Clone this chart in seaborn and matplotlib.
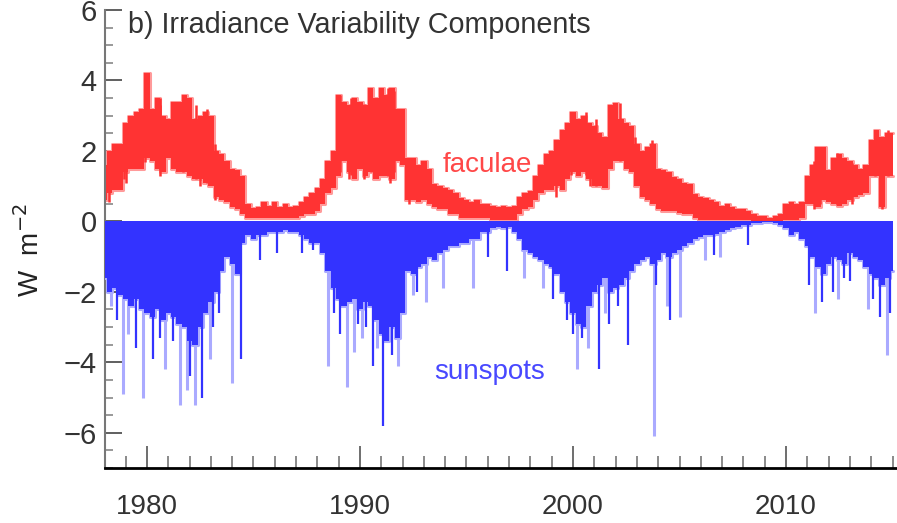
import numpy as np
import pandas as pd
import matplotlib
matplotlib.use("Agg")
import matplotlib.pyplot as plt
import seaborn as sns
from matplotlib.ticker import MultipleLocator, FixedLocator

# ---------------- data ----------------
# sampling grid: quarter years 1978.0 ... 2015.0
start_year = 1978
end_year = 2015
years = [y + q for y in range(start_year, end_year) for q in (0.0, 0.25, 0.5, 0.75)] + [float(end_year)]

# faculae: upper and lower edge of the red band (W m-2), 4 values per year
fac_hi = [
    1.6, 2.0, 2.2, 2.2,     # 1978
    2.8, 3.0, 3.1, 3.2,     # 1979
    4.2, 3.2, 3.5, 3.0,     # 1980
    2.9, 3.4, 3.4, 3.6,     # 1981
    3.5, 2.9, 3.0, 3.1,     # 1982
    3.0, 2.0, 1.9, 1.7,     # 1983
    1.5, 1.45, 1.3, 0.5,    # 1984
    0.37, 0.4, 0.55, 0.45,  # 1985
    0.55, 0.4, 0.5, 0.4,    # 1986
    0.45, 0.55, 0.7, 0.8,   # 1987
    0.95, 1.2, 1.7, 2.0,    # 1988
    3.6, 3.4, 3.3, 3.5,     # 1989
    3.4, 3.3, 3.8, 3.5,     # 1990
    3.8, 3.6, 3.8, 3.2,     # 1991
    3.2, 1.8, 1.8, 1.6,     # 1992
    1.7, 1.5, 1.05, 1.0,    # 1993
    0.95, 0.9, 0.8, 0.66,   # 1994
    0.6, 0.55, 0.6, 0.5,    # 1995
    0.48, 0.45, 0.4, 0.45,  # 1996
    0.4, 0.45, 0.7, 0.8,    # 1997
    0.85, 1.3, 1.6, 1.9,    # 1998
    2.0, 2.3, 2.6, 2.8,     # 1999
    3.1, 2.9, 3.0, 2.8,     # 2000
    2.7, 2.5, 2.4, 3.3,     # 2001
    3.35, 2.9, 2.8, 2.7,    # 2002
    2.2, 2.0, 2.1, 2.2,     # 2003
    1.5, 1.45, 1.4, 1.25,   # 2004
    1.2, 1.1, 1.05, 0.77,   # 2005
    0.7, 0.65, 0.6, 0.55,   # 2006
    0.45, 0.5, 0.4, 0.35,   # 2007
    0.35, 0.3, 0.2, 0.15,   # 2008
    0.15, 0.1, 0.15, 0.2,   # 2009
    0.5, 0.55, 0.5, 0.55,   # 2010
    1.3, 1.6, 2.1, 2.1,     # 2011
    1.45, 1.8, 1.9, 1.8,    # 2012
    1.7, 1.6, 1.5, 1.6,     # 2013
    2.3, 2.6, 2.4, 2.5,     # 2014
    2.5,                    # 2015
]
fac_lo = [
    0.6, 0.8, 0.9, 0.9,
    1.4, 1.5, 1.5, 1.5,
    1.8, 1.7, 1.5, 1.4,
    1.8, 1.5, 1.4, 1.4,
    1.3, 1.2, 1.2, 1.1,
    1.0, 0.7, 0.6, 0.55,
    0.4, 0.35, 0.2, 0.1,
    0.1, 0.1, 0.1, 0.1,
    0.1, 0.1, 0.1, 0.1,
    0.1, 0.15, 0.2, 0.2,
    0.3, 0.5, 0.8, 0.95,
    1.3, 1.7, 1.4, 1.2,
    1.5, 1.3, 1.4, 1.2,
    1.3, 1.3, 1.2, 1.7,
    1.6, 0.6, 0.6, 0.55,
    0.6, 0.5, 0.4, 0.35,
    0.35, 0.2, 0.2, 0.1,
    0.1, 0.1, 0.1, 0.1,
    0.1, 0.05, 0.05, 0.05,
    0.05, 0.05, 0.2, 0.35,
    0.4, 0.6, 0.8, 0.9,
    0.9, 1.0, 0.9, 1.2,
    1.4, 1.3, 1.4, 1.2,
    1.0, 1.0, 0.95, 1.5,
    1.7, 1.7, 1.5, 1.4,
    1.0, 0.7, 0.6, 0.5,
    0.35, 0.3, 0.3, 0.3,
    0.25, 0.2, 0.2, 0.1,
    0.05, 0.05, 0.05, 0.05,
    0.05, 0.05, 0.05, 0.05,
    0.05, 0.05, 0.0, 0.0,
    0.0, 0.0, 0.0, 0.0,
    0.05, 0.05, 0.05, 0.1,
    0.5, 0.5, 0.4, 0.6,
    0.55, 0.5, 0.45, 0.5,
    0.6, 0.7, 0.75, 0.8,
    1.3, 1.3, 0.4, 1.3,
    1.3,
]

# narrow faculae peaks above the band and dips below it
fac_peak_years = [1978.9, 1979.9, 1980.6, 1981.7, 1982.3, 1982.8, 1989.06, 1989.6,
                  1990.5, 1991.3, 1991.6, 1999.9, 2000.6, 2001.1, 2002.2, 2003.7,
                  2011.6, 2012.4, 2014.2, 2014.8]
fac_peak_top = [2.5, 4.2, 3.5, 3.6, 3.3, 3.2, 3.6, 3.5,
                3.8, 3.8, 3.7, 3.0, 3.1, 2.9, 3.35, 2.3,
                2.1, 1.95, 2.6, 2.6]
fac_dip_years = [1978.2, 1979.0, 1980.6, 1982.5, 1983.2, 1989.5, 1990.2, 1991.4,
                 1992.3, 1999.2, 2000.8, 2002.9, 2011.3, 2013.1, 2014.5]
fac_dip_bottom = [0.55, 1.1, 1.3, 1.0, 0.6, 1.2, 1.2, 1.1,
                  0.5, 0.7, 1.0, 1.2, 0.35, 0.5, 0.35]

# sunspots: depth of the dense dark-blue body (W m-2)
spot_body = [
    -1.6, -2.0, -1.9, -2.1,
    -2.2, -2.4, -2.2, -2.5,
    -2.6, -2.7, -2.5, -2.8,
    -2.6, -2.7, -2.9, -3.0,
    -3.4, -3.5, -3.0, -2.6,
    -2.3, -2.0, -1.4, -1.0,
    -1.2, -1.5, -0.6, -0.4,
    -0.5, -0.4, -0.4, -0.3,
    -0.3, -0.3, -0.25, -0.3,
    -0.3, -0.4, -0.5, -0.6,
    -0.6, -0.9, -1.4, -1.9,
    -2.2, -2.4, -2.3, -2.2,
    -2.5, -2.3, -2.4, -2.8,
    -3.2, -3.4, -3.0, -3.3,
    -2.6, -1.4, -1.5, -1.3,
    -1.2, -1.0, -1.1, -0.9,
    -0.8, -0.7, -0.7, -0.6,
    -0.6, -0.5, -0.5, -0.3,
    -0.3, -0.2, -0.15, -0.2,
    -0.15, -0.3, -0.5, -0.8,
    -0.9, -1.0, -1.1, -1.2,
    -1.3, -1.5, -2.0, -2.3,
    -2.6, -2.9, -3.0, -2.4,
    -2.0, -1.8, -1.6, -2.0,
    -1.9, -1.8, -1.6, -1.4,
    -1.2, -1.1, -1.0, -1.2,
    -1.1, -0.9, -1.0, -0.9,
    -0.8, -0.7, -0.6, -0.5,
    -0.45, -0.4, -0.4, -0.35,
    -0.3, -0.25, -0.2, -0.15,
    -0.1, -0.1, -0.05, -0.05,
    -0.03, -0.03, -0.05, -0.1,
    -0.2, -0.4, -0.3, -0.5,
    -0.7, -1.0, -1.3, -1.5,
    -1.2, -1.0, -1.1, -1.2,
    -0.9, -1.0, -1.1, -1.3,
    -1.5, -1.6, -1.8, -1.6,
    -1.4,
]

# isolated deep sunspot dips (pale blue)
light_years = [1978.3, 1978.87, 1979.1, 1979.8, 1980.85, 1981.55, 1981.9, 1982.25,
               1982.96, 1984.0, 1988.5, 1989.4, 1989.7, 1990.1, 1990.8, 1991.8,
               1992.5, 1993.1, 1993.9, 1995.3, 1997.7, 1998.6, 2000.2, 2000.7,
               2001.5, 2003.8, 2004.4, 2005.0, 2006.2, 2006.9, 2011.36, 2012.45,
               2013.85, 2014.75]
light_depth = [-2.4, -4.9, -3.2, -5.0, -4.2, -5.2, -4.8, -5.2,
               -3.9, -4.6, -4.1, -4.7, -3.7, -3.3, -3.6, -4.1,
               -2.1, -2.3, -1.9, -1.9, -1.6, -1.9, -4.2, -3.6,
               -2.6, -6.1, -2.4, -2.7, -1.1, -1.0, -2.6, -2.2,
               -2.5, -3.8]

# isolated sunspot dips (dark blue)
dark_years = [1978.6, 1979.5, 1980.3, 1980.6, 1981.2, 1982.0, 1982.6, 1983.1, 1983.4,
              1984.4, 1985.3, 1986.1, 1987.3, 1987.8, 1988.8, 1989.06, 1989.9,
              1990.3, 1990.6, 1991.1, 1991.5, 1992.7, 1996.0, 1996.9, 1999.06,
              1999.7, 2000.0, 2000.4, 2001.2, 2001.7, 2002.1, 2002.6, 2003.9,
              2004.55, 2006.6, 2008.2, 2011.1, 2011.7, 2012.2, 2012.7, 2013.0,
              2014.1, 2014.4, 2014.9]
dark_depth = [-2.8, -3.6, -3.9, -3.3, -3.4, -4.4, -5.0, -3.0, -2.6,
              -3.9, -1.1, -0.9, -0.9, -0.8, -2.6, -3.2, -2.9,
              -3.0, -4.1, -5.8, -3.8, -2.0, -1.0, -1.4, -2.2,
              -2.8, -3.2, -3.3, -4.2, -2.9, -2.4, -3.5, -1.8,
              -2.8, -0.95, -0.66, -1.8, -2.3, -2.0, -1.6, -1.7,
              -2.2, -2.7, -2.6]

x_ticks = [1980, 1990, 2000, 2010]
y_ticks = [-6, -4, -2, 0, 2, 4, 6]

title = "b) Irradiance Variability Components"
ylabel = r"W  m$^{-2}$"

RED = "#ff3333"
PINK = "#ff9a9a"
BLUE = "#3333ff"
PALE = "#aaaaff"

# ---------------- figure ----------------
sns.set_style("ticks")
plt.rcParams["font.family"] = ["Liberation Sans", "DejaVu Sans"]

fig = plt.figure(figsize=(8.97, 5.23), dpi=100)
ax = fig.add_axes([105 / 897, 55 / 523, 792 / 897, 458 / 523])

df = pd.DataFrame({"year": years, "hi": fac_hi, "lo": fac_lo, "spot": spot_body})

# faculae band
sns.lineplot(data=df, x="year", y="hi", ax=ax, color=PINK, lw=2.2,
             drawstyle="steps-mid", zorder=1)
sns.lineplot(data=df, x="year", y="lo", ax=ax, color=PINK, lw=2.2,
             drawstyle="steps-mid", zorder=1)
ax.fill_between(df["year"], df["lo"], df["hi"], color=RED, lw=0, step="mid", zorder=2)
# peaks rise from the band's lower edge, dips hang from its upper edge
peak_base = np.interp(fac_peak_years, years, fac_lo)
dip_base = np.interp(fac_dip_years, years, fac_hi)
ax.vlines(fac_peak_years, peak_base, fac_peak_top, color=RED, lw=1.8, zorder=2)
ax.vlines(fac_dip_years, fac_dip_bottom, dip_base, color=RED, lw=1.8, zorder=2)

# sunspots
ax.vlines(light_years, 0, light_depth, color=PALE, lw=2.2, zorder=3)
sns.lineplot(data=df, x="year", y="spot", ax=ax, color=PALE, lw=2.2,
             drawstyle="steps-mid", zorder=3)
ax.fill_between(df["year"], df["spot"], 0, color=BLUE, lw=0, step="mid", zorder=4)
ax.vlines(dark_years, 0, dark_depth, color=BLUE, lw=1.6, zorder=4)

# labels inside the plot
ax.text(1993.9, 1.39, "faculae", color="#ff4848", fontsize=20, zorder=5)
ax.text(1993.5, -4.46, "sunspots", color="#4848ff", fontsize=20, zorder=5)

ax.set_xlim(1978.03, 2015.21)
ax.set_ylim(-7, 6)
ax.xaxis.set_major_locator(FixedLocator(x_ticks))
ax.xaxis.set_minor_locator(MultipleLocator(1))
ax.yaxis.set_major_locator(FixedLocator(y_ticks))
ax.yaxis.set_minor_locator(MultipleLocator(0.5))
ax.set_xticklabels([str(t) for t in x_ticks])
ax.set_xlabel("")
ax.set_ylabel("")

ax.tick_params(axis="x", which="major", direction="in", length=16, width=1.2,
               color="#555555", pad=19, labelsize=20, labelcolor="#333333")
ax.tick_params(axis="x", which="minor", direction="in", length=9, width=1.2,
               color="#777777")
ax.tick_params(axis="y", which="major", direction="in", length=12, width=1.2,
               color="#444444", pad=6, labelsize=21, labelcolor="#333333")
ax.tick_params(axis="y", which="minor", direction="in", length=6, width=1.2,
               color="#888888")

for s in ("top", "right"):
    ax.spines[s].set_visible(False)
ax.spines["left"].set_color("#777777")
ax.spines["left"].set_linewidth(1.5)
ax.spines["bottom"].set_color("black")
ax.spines["bottom"].set_linewidth(2.0)

fig.text(128 / 897, 1 - 33 / 523, title, fontsize=20.7, color="#333333",
         ha="left", va="baseline")
fig.text(30 / 897, 1 - 250 / 523, ylabel, fontsize=20, color="#222222",
         rotation=90, ha="center", va="center")

fig.savefig("out.png", dpi=100)
